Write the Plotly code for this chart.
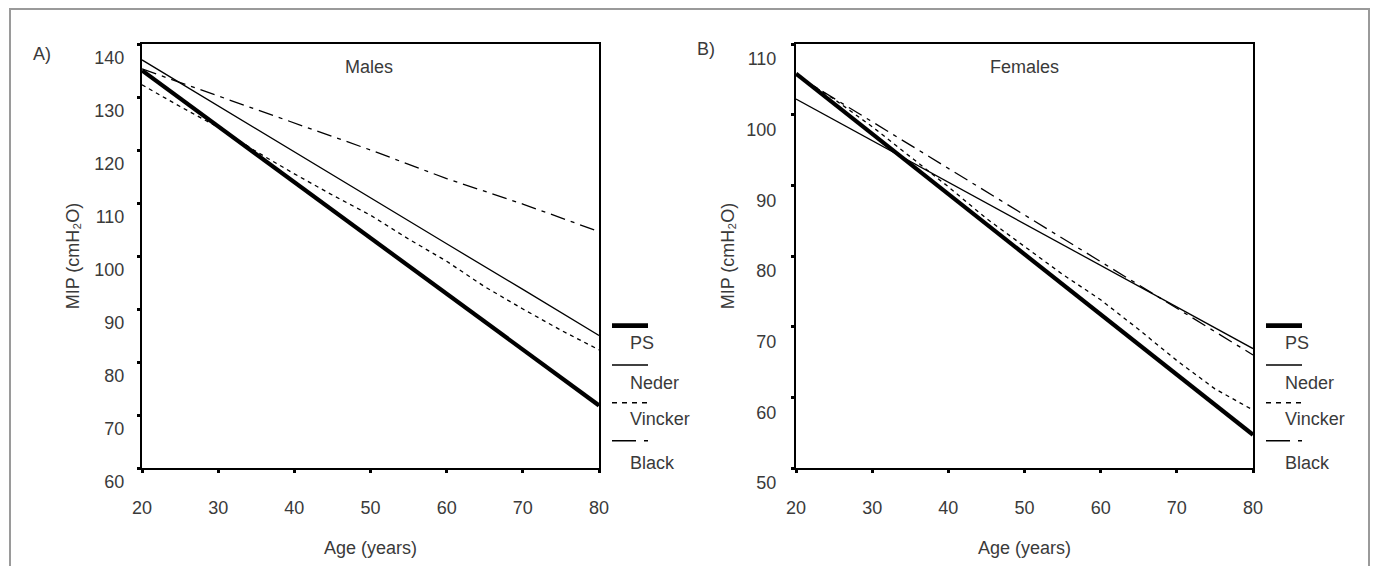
import plotly.graph_objects as go

W, H = 1373, 566

# ---- data ----
ages = [20, 30, 40, 50, 60, 70, 80]
males_ps = [135.0, 124.5, 113.9, 103.4, 92.9, 82.3, 71.8]
males_neder = [137.0, 128.3, 119.7, 111.0, 102.3, 93.7, 85.0]
males_black = [135.3, 130.2, 125.1, 120.0, 114.6, 109.8, 104.6]
ages_v = [20, 25, 30, 35, 40, 45, 50, 55, 60, 65, 70, 75, 80]
males_vincker = [132.3, 128.2, 124.3, 119.7, 115.5, 111.5, 107.7, 103.2, 99.0, 94.2, 90.0, 86.0, 82.3]

females_ps = [105.8, 97.3, 88.8, 80.2, 71.7, 63.2, 54.7]
females_neder = [102.2, 96.3, 90.4, 84.6, 78.7, 72.8, 66.9]
females_black = [105.6, 99.0, 92.4, 85.8, 79.2, 72.6, 66.0]
females_vincker = [105.6, 102.2, 98.3, 94.0, 89.8, 85.3, 81.3, 77.4, 73.8, 69.6, 65.2, 61.2, 58.2]

x_ticks = [20, 30, 40, 50, 60, 70, 80]
males_yticks = [60, 70, 80, 90, 100, 110, 120, 130, 140]
females_yticks = [50, 60, 70, 80, 90, 100, 110]
series_names = ["PS", "Neder", "Vincker", "Black"]

FONT = "Liberation Sans, Arial, sans-serif"
TXT = "#3a3a3a"
FS = 18

def px(x):
    return x / W

def py(y):
    return 1 - y / H

styles = {
    "PS": dict(color="black", width=4.2, dash="solid"),
    "Neder": dict(color="black", width=1.3, dash="solid"),
    "Vincker": dict(color="black", width=1.3, dash="4px,4px"),
    "Black": dict(color="black", width=1.3, dash="15px,6px,4px,6px"),
}

fig = go.Figure()
panels = [
    ("x", "y", [ages, ages, ages_v, ages], [males_ps, males_neder, males_vincker, males_black]),
    ("x2", "y2", [ages, ages, ages_v, ages], [females_ps, females_neder, females_vincker, females_black]),
]
for xa, ya, xs, ys in panels:
    for name, xv, yv in zip(series_names, xs, ys):
        fig.add_trace(go.Scatter(x=xv, y=yv, mode="lines", name=name, xaxis=xa, yaxis=ya,
                                 line=styles[name], showlegend=False, hoverinfo="skip"))

tfont = dict(family=FONT, size=FS, color=TXT)
axis_common = dict(showline=True, linecolor="black", linewidth=2, mirror=True,
                   ticks="outside", ticklen=3, tickwidth=3, tickcolor="black",
                   showgrid=False, zeroline=False, automargin=False,
                   tickfont=tfont)

L = (142, 599)
R = (796, 1253)
TOP, BOT = 44, 468

xtitle = dict(text="Age (years)", font=tfont, standoff=25)
ytitle = dict(text="MIP (cmH₂O)", font=tfont, standoff=10)
ytitle2 = dict(text="MIP (cmH₂O)", font=tfont, standoff=7)

fig.update_layout(
    template="none",
    width=W, height=H, margin=dict(l=0, r=0, t=0, b=0, autoexpand=False),
    paper_bgcolor="white", plot_bgcolor="white", showlegend=False,
    xaxis=dict(domain=[px(L[0]), px(L[1])], range=[20, 80], tickvals=x_ticks,
               anchor="y", ticklabelstandoff=19, title=xtitle, **axis_common),
    yaxis=dict(domain=[py(BOT), py(TOP)], range=[60, 140], tickvals=males_yticks,
               anchor="x", ticklabelshift=14, ticklabelstandoff=9, title=ytitle, **axis_common),
    xaxis2=dict(domain=[px(R[0]), px(R[1])], range=[20, 80], tickvals=x_ticks,
                anchor="y2", ticklabelstandoff=19, title=xtitle, **axis_common),
    yaxis2=dict(domain=[py(BOT), py(TOP)], range=[50, 110], tickvals=females_yticks,
                anchor="x2", ticklabelshift=15, ticklabelstandoff=11, title=ytitle2, **axis_common),
)

anns = []
def text(x, y, s, size=FS, anchor="center", angle=0):
    anns.append(dict(x=px(x), y=py(y), xref="paper", yref="paper", text=s, showarrow=False,
                     xanchor=anchor, yanchor="middle", textangle=angle,
                     font=dict(family=FONT, size=size, color=TXT)))

text(42, 54, "A)")
text(706, 49, "B)")
text(369, 67, "Males")
text(1024, 67, "Females")

shapes = []
# outer gray frame
shapes.append(dict(type="rect", xref="paper", yref="paper", x0=px(10), x1=px(1369),
                   y0=py(600), y1=py(9), line=dict(color="#9a9a9a", width=2)))

leg_line_y = [325.7, 365, 402.7, 440.7]
leg_text_y = [342.7, 383.3, 419, 463.3]
leg_dash = {"PS": "solid", "Neder": "solid", "Vincker": "5px,5px", "Black": "24px,8px,4px,100px"}
for x0, x1, tx in [(612, 648, 628), (1266, 1302, 1283)]:
    for name, ly, ty in zip(series_names, leg_line_y, leg_text_y):
        st = styles[name]
        shapes.append(dict(type="line", xref="paper", yref="paper", x0=px(x0), x1=px(x1),
                           y0=py(ly), y1=py(ly),
                           line=dict(color="black", width=st["width"] + (0.3 if name != "PS" else 0.5),
                                     dash=leg_dash[name])))
        text(tx, ty, name, anchor="left")

fig.update_layout(annotations=anns, shapes=shapes)

fig.write_html("out.html", config={"displayModeBar": False},
               post_script="document.body.style.margin='0';document.body.style.overflow='hidden';")
